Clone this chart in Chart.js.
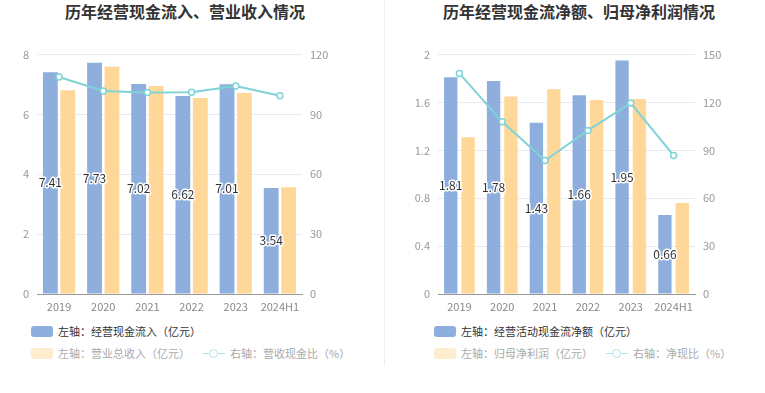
<!DOCTYPE html>
<html><head><meta charset="utf-8">
<script src="https://cdn.jsdelivr.net/npm/chart.js@4/dist/chart.umd.min.js"></script>
<style>
html,body{margin:0;padding:0;background:#fff;width:765px;height:393px;overflow:hidden;font-family:"Noto Sans CJK SC","Noto Sans",sans-serif;}
.title{position:absolute;top:-1px;width:320px;text-align:center;font-size:16px;font-weight:bold;color:#333;line-height:24px;white-space:nowrap;}
canvas{position:absolute;top:40px;}
.sep{position:absolute;left:384px;top:0;width:1px;height:366px;background:#eeeeee;}
.leg{position:absolute;font-size:11px;line-height:14px;white-space:nowrap;display:flex;align-items:center;}
.sw{display:inline-block;width:22px;height:11px;border-radius:3px;margin-right:5px;}
.li{display:inline-block;position:relative;width:22px;height:11px;margin-right:5px;}
.li:before{content:"";position:absolute;left:0;right:0;top:5px;height:1.5px;background:#aee6e8;}
.li:after{content:"";position:absolute;left:6px;top:1px;width:7px;height:7px;border-radius:50%;border:1.5px solid #aee6e8;background:#fff;}
</style></head>
<body>
<div class="sep"></div>
<div class="title" style="left:25px">历年经营现金流入、营业收入情况</div>
<div class="title" style="left:419px">历年经营现金流净额、归母净利润情况</div>
<canvas id="c1" width="384" height="280" style="left:0"></canvas>
<canvas id="c2" width="381" height="280" style="left:384px"></canvas>

<div class="leg" style="left:31px;top:324px;color:#333"><span class="sw" style="background:#8eaedd"></span><span id="l1a"></span></div>
<div class="leg" style="left:31px;top:346px;color:#aaa"><span class="sw" style="background:#ffedcf"></span><span id="l1b"></span><span style="display:inline-block;width:13px"></span><span class="li"></span><span id="l1c"></span></div>
<div class="leg" style="left:434px;top:324px;color:#333"><span class="sw" style="background:#8eaedd"></span><span id="l2a"></span></div>
<div class="leg" style="left:434px;top:346px;color:#aaa"><span class="sw" style="background:#ffedcf"></span><span id="l2b"></span><span style="display:inline-block;width:13px"></span><span class="li"></span><span id="l2c"></span></div>

<script>
const categories = ['2019','2020','2021','2022','2023','2024H1'];

// left chart
const cashInflow = [7.41, 7.73, 7.02, 6.62, 7.01, 3.54];
const revenue = [6.81, 7.59, 6.95, 6.55, 6.72, 3.57];
const cashRevenueRatio = [108.8, 101.8, 101.0, 101.1, 104.3, 99.4];
const legendLeft = ['左轴：经营现金流入（亿元）', '左轴：营业总收入（亿元）', '右轴：营收现金比（%）'];

// right chart
const netOperatingCF = [1.81, 1.78, 1.43, 1.66, 1.95, 0.66];
const netProfit = [1.31, 1.65, 1.71, 1.62, 1.63, 0.76];
const netCashRatio = [138.2, 107.9, 83.6, 102.5, 119.6, 86.8];
const legendRight = ['左轴：经营活动现金流净额（亿元）', '左轴：归母净利润（亿元）', '右轴：净现比（%）'];

document.getElementById('l1a').textContent = legendLeft[0];
document.getElementById('l1b').textContent = legendLeft[1];
document.getElementById('l1c').textContent = legendLeft[2];
document.getElementById('l2a').textContent = legendRight[0];
document.getElementById('l2b').textContent = legendRight[1];
document.getElementById('l2c').textContent = legendRight[2];

const FONT = '"Noto Sans CJK SC","Noto Sans",sans-serif';
const BLUE = '#8eaedd', ORANGE = '#ffd899', CYAN = '#7fd3d7';

const barLabels = {
  id: 'barLabels',
  afterDatasetsDraw(chart) {
    const ctx = chart.ctx;
    const meta = chart.getDatasetMeta(0);
    const data = chart.data.datasets[0].data;
    ctx.save();
    ctx.font = '12px ' + FONT;
    ctx.textAlign = 'center';
    ctx.textBaseline = 'middle';
    ctx.lineJoin = 'round';
    meta.data.forEach((el, i) => {
      const p = el.getProps(['x', 'y', 'base'], true);
      const y = (p.y + p.base) / 2;
      const t = data[i].toFixed(2);
      ctx.strokeStyle = '#fff';
      ctx.lineWidth = 3;
      ctx.strokeText(t, p.x, y);
      ctx.fillStyle = '#333';
      ctx.fillText(t, p.x, y);
    });
    ctx.restore();
  }
};

function makeChart(id, bars1, bars2, line, yMax, yStep, y2Max, y2Step, leftW, rightPad, catPct, barPct, fmt) {
  return new Chart(document.getElementById(id), {
    type: 'bar',
    data: {
      labels: categories,
      datasets: [
        {type: 'bar', data: bars1, backgroundColor: BLUE, yAxisID: 'y', order: 2,
         categoryPercentage: catPct, barPercentage: barPct},
        {type: 'bar', data: bars2, backgroundColor: ORANGE, yAxisID: 'y', order: 2,
         categoryPercentage: catPct, barPercentage: barPct},
        {type: 'line', data: line, borderColor: CYAN, borderWidth: 2, yAxisID: 'y1', order: 0,
         pointRadius: 3, pointBorderWidth: 1.5, pointBackgroundColor: '#fff', pointBorderColor: CYAN,
         tension: 0, fill: false}
      ]
    },
    options: {
      responsive: false,
      animation: false,
      devicePixelRatio: 1,
      layout: {padding: {top: 14, bottom: 6, left: 0, right: rightPad}},
      plugins: {legend: {display: false}, title: {display: false}, tooltip: {enabled: false}},
      scales: {
        x: {
          grid: {display: false, drawTicks: false},
          border: {display: true, color: '#999'},
          ticks: {color: '#888', font: {size: 11, family: FONT}, padding: 6, maxRotation: 0, autoSkip: false},
          afterFit(s) { s.height = 20; }
        },
        y: {
          position: 'left', min: 0, max: yMax,
          grid: {color: '#e6eaf4', drawTicks: false},
          border: {display: false},
          ticks: {stepSize: yStep, color: '#999', font: {size: 11, family: FONT}, padding: 8, callback: fmt},
          afterFit(s) { s.width = leftW; }
        },
        y1: {
          position: 'right', min: 0, max: y2Max,
          grid: {display: false, drawTicks: false},
          border: {display: false},
          ticks: {stepSize: y2Step, color: '#999', font: {size: 11, family: FONT}, padding: 8},
          afterFit(s) { s.width = 40; }
        }
      }
    },
    plugins: [barLabels]
  });
}

const fmt1 = v => String(Math.round(v * 10) / 10);
makeChart('c1', cashInflow, revenue, cashRevenueRatio, 8, 2, 120, 30, 37, 42, 0.79, 0.85, fmt1);
makeChart('c2', netOperatingCF, netProfit, netCashRatio, 2, 0.4, 150, 30, 54, 30, 0.81, 0.77, fmt1);
</script>
</body></html>
